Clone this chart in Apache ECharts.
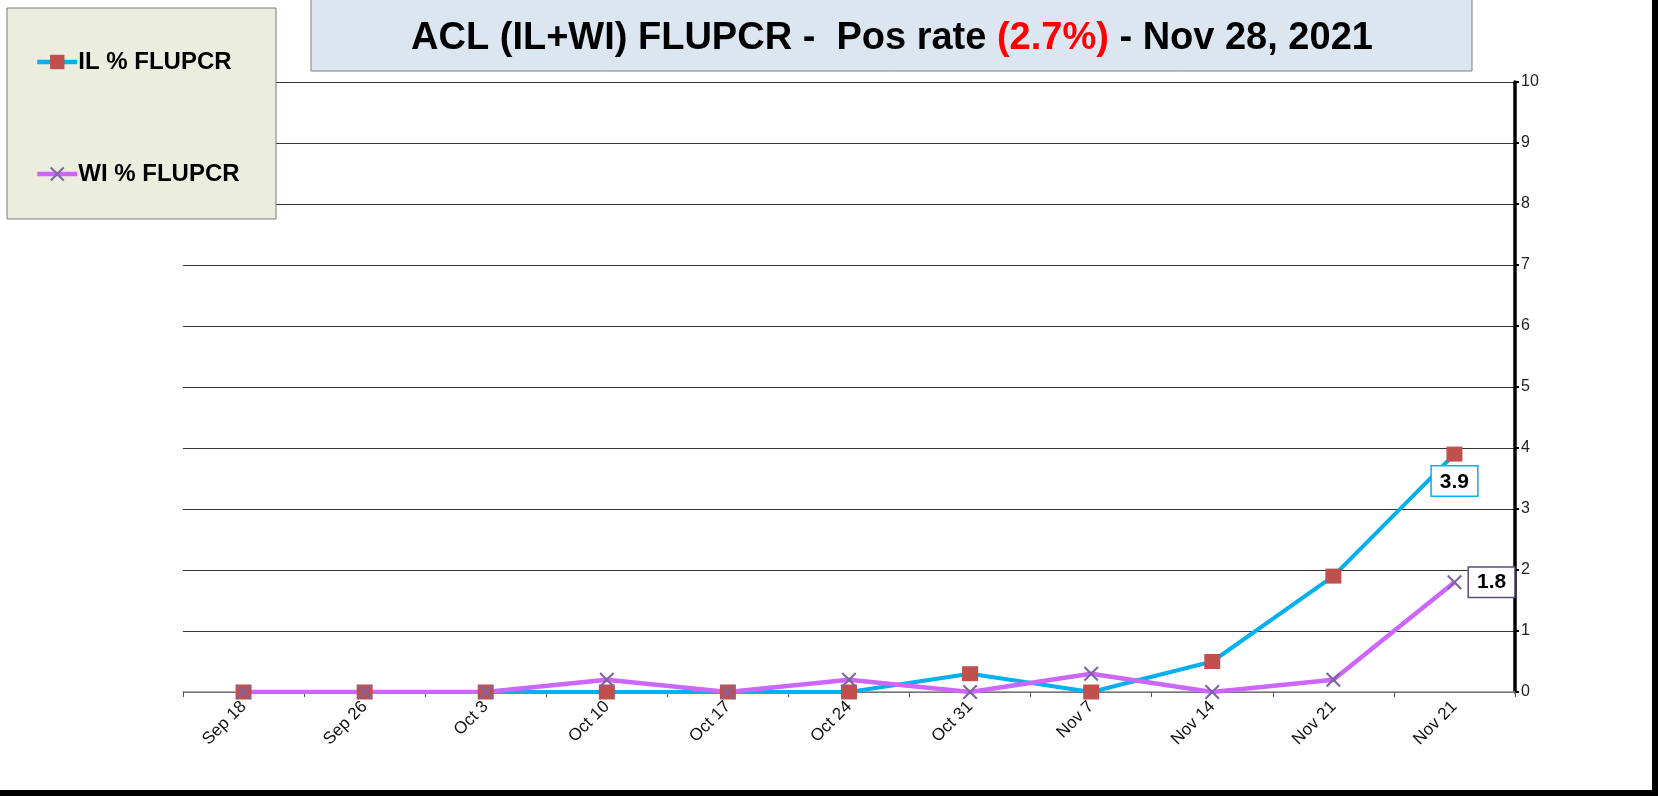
<!DOCTYPE html>
<html>
<head>
<meta charset="utf-8">
<script src="https://cdn.jsdelivr.net/npm/echarts@6/dist/echarts.min.js"></script>
<style>
  html, body { margin: 0; padding: 0; background: #fff; }
  #chart { width: 1658px; height: 796px; }
</style>
</head>
<body>
<div id="chart"></div>
<script>
// weeks on the x axis (the last one really is "Nov 21" twice in the source)
var weeks = ['Sep 18', 'Sep 26', 'Oct 3', 'Oct 10', 'Oct 17', 'Oct 24', 'Oct 31', 'Nov 7', 'Nov 14', 'Nov 21', 'Nov 21'];
// % positive
var ilRate = [0, 0, 0, 0, 0, 0, 0.3, 0, 0.5, 1.9, 3.9];
var wiRate = [0, 0, 0, 0.2, 0, 0.2, 0, 0.3, 0, 0.2, 1.8];
var yTicks = [0, 1, 2, 3, 4, 5, 6, 7, 8, 9, 10];

var FONT = 'Liberation Sans, Arial, sans-serif';
var crossPath = 'path://M0,1L1,0L5,4L9,0L10,1L6,5L10,9L9,10L5,6L1,10L0,9L4,5Z';

// only the last point gets a boxed value label
function withLastLabel(values, label) {
    return values.map(function (v, i) {
        if (i !== values.length - 1) return v;
        return { value: v, label: label };
    });
}

var chart = echarts.init(document.getElementById('chart'));
chart.setOption({
    animation: false,
    backgroundColor: '#fff',
    textStyle: { fontFamily: FONT },
    title: {
        text: '{a|ACL (IL+WI) FLUPCR -  Pos rate }{r|(2.7%)}{a| - Nov 28, 2021}',
        left: 887,
        top: 15,
        textAlign: 'center',
        z: 8,
        textStyle: {
            rich: {
                a: { fontSize: 38, fontWeight: 'bold', color: '#000', fontFamily: FONT },
                r: { fontSize: 38, fontWeight: 'bold', color: '#ff0000', fontFamily: FONT }
            }
        }
    },
    legend: {
        orient: 'vertical',
        left: 35,
        top: 50,
        padding: 0,
        itemWidth: 40,
        itemHeight: 18,
        itemGap: 88,
        z: 8,
        lineStyle: { width: 4.5 },
        textStyle: { fontSize: 24, fontWeight: 'bold', color: '#000', padding: [0, 0, 0, -4] },
        data: ['IL % FLUPCR', 'WI % FLUPCR']
    },
    graphic: [
        { // title box
            type: 'rect', z: 5,
            shape: { x: 311, y: -2, width: 1161, height: 73 },
            style: { fill: '#dce6f1', stroke: '#7f7f7f', lineWidth: 1 }
        },
        { // legend box
            type: 'rect', z: 5,
            shape: { x: 7, y: 8, width: 269, height: 211 },
            style: { fill: '#ebeedf', stroke: '#7a7a7a', lineWidth: 1 }
        },
        { // frame strips right and bottom
            type: 'rect', z: 5,
            shape: { x: 1652, y: 0, width: 6, height: 796 },
            style: { fill: '#000' }
        },
        {
            type: 'rect', z: 5,
            shape: { x: 0, y: 790, width: 1658, height: 6 },
            style: { fill: '#000' }
        }
    ],
    grid: { left: 183, right: 143, top: 82, bottom: 104 },
    xAxis: {
        type: 'category',
        data: weeks,
        boundaryGap: true,
        axisLine: { lineStyle: { color: '#8c8c8c', width: 1.5 } },
        axisTick: { show: true, length: 5, lineStyle: { color: '#555' } },
        axisLabel: { rotate: 45, fontSize: 17, color: '#111', margin: 12, interval: 0 },
        splitLine: { show: false }
    },
    yAxis: {
        type: 'value',
        position: 'right',
        min: yTicks[0],
        max: yTicks[yTicks.length - 1],
        interval: 1,
        axisLine: { show: true, lineStyle: { color: '#000', width: 3.5 } },
        axisTick: { show: true, length: 4, lineStyle: { color: '#000', width: 2 } },
        axisLabel: { fontSize: 16, color: '#222', margin: 6 },
        splitLine: { show: true, lineStyle: { color: '#333', width: 1 } }
    },
    series: [
        {
            name: 'IL % FLUPCR',
            type: 'line',
            data: withLastLabel(ilRate, {
                show: true, position: 'bottom', distance: 5,
                fontSize: 21, fontWeight: 'bold', color: '#000',
                backgroundColor: '#fff', borderColor: '#00b0f0', borderWidth: 1.5,
                padding: [5, 8, 3, 8]
            }),
            symbol: 'rect',
            symbolSize: [16, 15],
            showAllSymbol: true,
            itemStyle: { color: '#c0504d' },
            lineStyle: { color: '#00b0f0', width: 4 }
        },
        {
            name: 'WI % FLUPCR',
            type: 'line',
            data: withLastLabel(wiRate, {
                show: true, position: 'right', distance: 7,
                fontSize: 21, fontWeight: 'bold', color: '#000',
                backgroundColor: '#fff', borderColor: '#604a7b', borderWidth: 1.5,
                padding: [5, 8, 3, 8]
            }),
            symbol: crossPath,
            symbolSize: 15,
            showAllSymbol: true,
            itemStyle: { color: '#8064a2' },
            lineStyle: { color: '#cc66ff', width: 4.5 }
        }
    ]
});
</script>
</body>
</html>
